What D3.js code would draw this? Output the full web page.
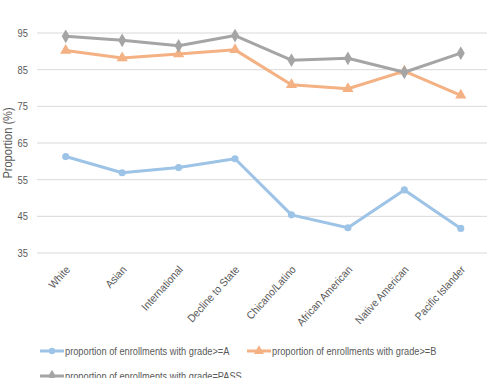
<!DOCTYPE html>
<html><head><meta charset="utf-8">
<script src="https://cdn.jsdelivr.net/npm/d3@7"></script>
<style>html,body{margin:0;padding:0;background:#fff;overflow:hidden}</style>
</head><body><svg id="c" width="487" height="378"></svg>
<script>
const categories = ["White","Asian","International","Decline to State","Chicano/Latino","African American","Native American","Pacific Islander"];
const gradeA =    [61.3, 56.9, 58.3, 60.7, 45.4, 41.9, 52.2, 41.7];
const gradeB =    [90.2, 88.2, 89.3, 90.4, 80.9, 79.8, 84.6, 78.0];
const gradePass = [94.1, 93.0, 91.5, 94.3, 87.6, 88.1, 84.3, 89.5];
const yTicks = [35,45,55,65,75,85,95];
const seriesNames = ["proportion of enrollments with grade>=A","proportion of enrollments with grade>=B","proportion of enrollments with grade=PASS"];

const FONT = "'Liberation Sans Narrow','Arial Narrow','Liberation Sans',sans-serif";
const svg = d3.select("#c");
const x = d3.scaleBand().domain(categories).range([37.5, 489]);
const y = d3.scaleLinear().domain([35, 95]).range([253, 33]);

function squeeze(sel, f) {
  sel.each(function() {
    const len = this.getComputedTextLength();
    d3.select(this).attr("textLength", len * f).attr("lengthAdjust", "spacingAndGlyphs");
  });
}

// gridlines
svg.append("g").selectAll("line").data(yTicks).join("line")
  .attr("x1", 37).attr("x2", 487)
  .attr("y1", d => y(d)).attr("y2", d => y(d))
  .attr("stroke", "#d9d9d9").attr("stroke-width", 1);

// y tick labels
const yAxis = d3.axisLeft(y).tickValues(yTicks).tickSize(0).tickPadding(0);
const yg = svg.append("g").attr("transform", "translate(28,0)").call(yAxis);
yg.select(".domain").remove();
yg.selectAll("text").attr("font-family", FONT).attr("font-size", 11).attr("fill", "#595959");
squeeze(yg.selectAll("text"), 0.85);

// y title
const yt = svg.append("text").attr("transform", "translate(12,143) rotate(-90)")
  .attr("text-anchor", "middle").attr("font-family", FONT).attr("font-size", 12)
  .attr("fill", "#595959").text("Proportion (%)");
squeeze(yt, 0.92);

// x labels
const xAxis = d3.axisBottom(x).tickSize(0).tickPadding(0);
const xg = svg.append("g").attr("transform", "translate(0,253)").call(xAxis);
xg.select(".domain").remove();
xg.selectAll("text")
  .attr("font-family", FONT).attr("font-size", 11).attr("fill", "#595959")
  .attr("text-anchor", "end").attr("dy", 0)
  .attr("transform", "translate(5,17) rotate(-48)");
squeeze(xg.selectAll("text"), 0.92);

const cx = d => x(d) + x.bandwidth() / 2;
const series = [
  {name: seriesNames[0], values: gradeA, color: "#9dc3e6", marker: d3.symbolCircle, size: 40},
  {name: seriesNames[1], values: gradeB, color: "#f4b183", marker: d3.symbolTriangle, size: 55},
  {name: seriesNames[2], values: gradePass, color: "#a5a5a5", marker: d3.symbolDiamond, size: 55}
];

const line = d3.line().x((d, i) => cx(categories[i])).y(d => y(d));
series.forEach(s => {
  svg.append("path").datum(s.values).attr("d", line)
    .attr("fill", "none").attr("stroke", s.color).attr("stroke-width", 3)
    .attr("stroke-linejoin", "round");
  svg.append("g").selectAll("path").data(s.values).join("path")
    .attr("d", d3.symbol().type(s.marker).size(s.size))
    .attr("transform", (d, i) => `translate(${cx(categories[i])},${y(d)})`)
    .attr("fill", s.color);
});

// legend
const legPos = [[40, 351], [247, 351], [40, 376]];
series.forEach((s, i) => {
  const [lx, ly] = legPos[i];
  const g = svg.append("g").attr("transform", `translate(${lx},${ly})`);
  g.append("line").attr("x1", 0).attr("x2", 24).attr("y1", 0).attr("y2", 0)
    .attr("stroke", s.color).attr("stroke-width", 3);
  g.append("path").attr("d", d3.symbol().type(s.marker).size(s.size * 0.8))
    .attr("transform", "translate(12,0)").attr("fill", s.color);
  const t = g.append("text").attr("x", 25).attr("y", 0).attr("dy", "0.35em")
    .attr("font-family", FONT).attr("font-size", 11).attr("fill", "#595959")
    .text(s.name);
  t.attr("textLength", t.node().getComputedTextLength() * 0.84).attr("lengthAdjust", "spacingAndGlyphs");
});
</script></body></html>
